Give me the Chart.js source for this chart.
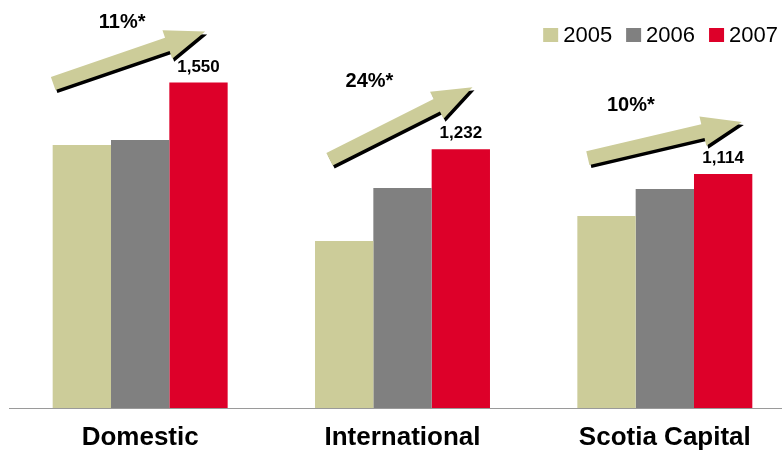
<!DOCTYPE html>
<html>
<head>
<meta charset="utf-8">
<script src="https://cdn.jsdelivr.net/npm/chart.js@4.4.1/dist/chart.umd.min.js"></script>
<style>
    html, body { margin: 0; padding: 0; background: #fff; overflow: hidden; }
    #wrap { width: 800px; height: 451px; }
</style>
</head>
<body>
<div id="wrap"><canvas id="chart"></canvas></div>
<script>
const categories = ['Domestic', 'International', 'Scotia Capital'];
const years = ['2005', '2006', '2007'];
const values2005 = [1252, 795, 914];
const values2006 = [1276, 1048, 1043];
const values2007 = [1550, 1232, 1114];
const growthLabels = ['11%*', '24%*', '10%*'];

const FONT = 'Liberation Sans, Arial, sans-serif';
const KHAKI = '#cccc99';

// arrow placement, pixel offsets from group centre (x) and top of 2007 bar (y)
const arrowLayout = [
    { tail: [-87, 1], tip: [65, -51], label: [-18, -60] },
    { tail: [-73, 10], tip: [70, -62], label: [-33, -68] },
    { tail: [-77, -16], tip: [77, -52], label: [-34, -69] }
];

function arrowPath(ctx, x0, y0, x1, y1) {
    const dx = x1 - x0, dy = y1 - y0, len = Math.hypot(dx, dy);
    const ux = dx / len, uy = dy / len;
    const nx = uy, ny = -ux;
    const shaft = 7, head = 15, headLen = 40;
    const bx = x1 - ux * headLen, by = y1 - uy * headLen;
    ctx.beginPath();
    ctx.moveTo(x0 + nx * shaft, y0 + ny * shaft);
    ctx.lineTo(bx + nx * shaft, by + ny * shaft);
    ctx.lineTo(bx + nx * head, by + ny * head);
    ctx.lineTo(x1, y1);
    ctx.lineTo(bx - nx * head, by - ny * head);
    ctx.lineTo(bx - nx * shaft, by - ny * shaft);
    ctx.lineTo(x0 - nx * shaft, y0 - ny * shaft);
    ctx.closePath();
}

const extras = {
    id: 'extras',
    afterDatasetsDraw(chart) {
        const ctx = chart.ctx;
        const bars05 = chart.getDatasetMeta(0).data;
        const bars07 = chart.getDatasetMeta(2).data;
        ctx.save();

        // value labels on 2007 bars
        ctx.fillStyle = '#000';
        ctx.font = 'bold 17px ' + FONT;
        ctx.textAlign = 'center';
        ctx.textBaseline = 'alphabetic';
        bars07.forEach((bar, i) => {
            ctx.fillText(values2007[i].toLocaleString('en-US'), bar.x, bar.y - 11);
        });

        // growth arrows
        bars07.forEach((bar, i) => {
            const cx = (bars05[i].x + bar.x) / 2;
            const ty = bar.y;
            const a = arrowLayout[i];
            const x0 = cx + a.tail[0], y0 = ty + a.tail[1];
            const x1 = cx + a.tip[0], y1 = ty + a.tip[1];
            ctx.save();
            ctx.translate(2, 3);
            arrowPath(ctx, x0, y0, x1, y1);
            ctx.fillStyle = '#000';
            ctx.fill();
            ctx.restore();
            arrowPath(ctx, x0, y0, x1, y1);
            ctx.fillStyle = KHAKI;
            ctx.fill();

            ctx.fillStyle = '#000';
            ctx.font = 'bold 20px ' + FONT;
            ctx.textAlign = 'center';
            ctx.textBaseline = 'middle';
            ctx.fillText(growthLabels[i], cx + a.label[0], ty + a.label[1]);
        });

        // legend, right aligned
        ctx.font = '22px ' + FONT;
        ctx.textAlign = 'left';
        ctx.textBaseline = 'middle';
        const items = chart.data.datasets.map(ds => ({ text: ds.label, color: ds.backgroundColor }));
        const widths = items.map(it => 20 + ctx.measureText(it.text).width);
        const total = widths.reduce((s, w) => s + w, 0) + 14 * (items.length - 1);
        let x = 778 - total;
        items.forEach((it, i) => {
            ctx.fillStyle = it.color;
            ctx.fillRect(x, 28, 15, 14);
            ctx.fillStyle = '#000';
            ctx.fillText(it.text, x + 20, 36);
            x += widths[i] + 14;
        });
        ctx.restore();
    }
};

new Chart(document.getElementById('chart'), {
    type: 'bar',
    data: {
        labels: categories,
        datasets: [
            { label: years[0], data: values2005, backgroundColor: KHAKI },
            { label: years[1], data: values2006, backgroundColor: '#808080' },
            { label: years[2], data: values2007, backgroundColor: '#dd0029' }
        ]
    },
    options: {
        responsive: true,
        maintainAspectRatio: false,
        animation: false,
        layout: { padding: { top: 30, left: 9, right: 4, bottom: 0 } },
        datasets: {
            bar: { categoryPercentage: 0.667, barPercentage: 1.0 }
        },
        plugins: {
            legend: { display: false },
            tooltip: { enabled: false }
        },
        scales: {
            x: {
                grid: { display: false, drawTicks: false },
                border: { display: true, color: '#9a9a9a', width: 1 },
                ticks: {
                    color: '#000',
                    padding: 14,
                    font: { family: FONT, size: 26, weight: 'bold' }
                },
                afterFit: (scale) => { scale.height = 43; }
            },
            y: {
                display: false,
                min: 0,
                max: 1800
            }
        }
    },
    plugins: [extras]
});
</script>
</body>
</html>
